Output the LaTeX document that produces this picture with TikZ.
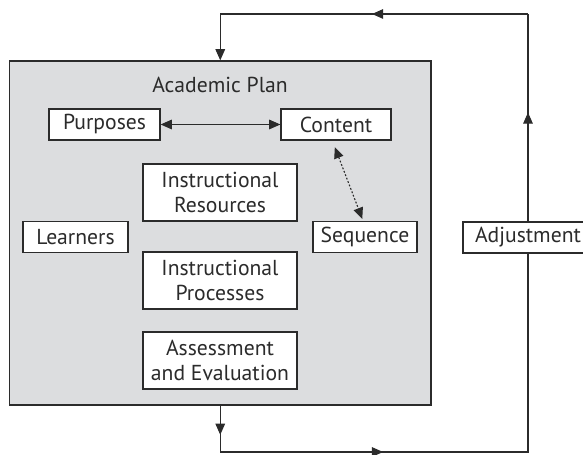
\documentclass[tikz,border=0pt]{standalone}
\usepackage{fontspec}
\setmainfont{PT Sans}
\usetikzlibrary{arrows.meta,decorations.markings}
\definecolor{plangray}{HTML}{DCDDDF}
\definecolor{ink}{HTML}{2B2B2B}

\begin{document}
\begin{tikzpicture}[
  font=\fontsize{15.4}{18.3}\selectfont, color=ink,
  box/.style={draw=ink, fill=white, line width=0.9pt, align=center, inner sep=0pt, minimum height=0.78cm},
  tall/.style={box, minimum width=3.85cm, minimum height=1.425cm},
  tri/.tip={Triangle[length=0.28cm,width=0.24cm]},
  midarrow/.style={postaction={decorate,decoration={markings,
    mark=at position #1 with {\arrow{tri}}}}},
  flow/.style={line width=0.8pt}
]
\useasboundingbox (0,0) rectangle (14.575,11.375);
%\node {\includegraphics{plan.png}};
\node[draw=ink, fill=plangray, line width=0.9pt, minimum width=10.5375cm,
  minimum height=8.6cm, inner sep=0pt] (plan) at (5.50625,5.55) {};
\node (title) at (5.5,9.25) {Academic Plan};
\node[box, minimum width=2.775cm] (purp) at (2.6125,8.2625) {Purposes};
\node[box, minimum width=2.75cm] (cont) at (8.4,8.2625) {Content};
\node[tall] (res) at (5.5,6.5625) {Instructional\\Resources};
\node[box, minimum width=2.625cm] (learn) at (1.8875,5.45) {Learners};
\node[box, minimum width=2.6cm] (seq) at (9.125,5.45) {Sequence};
\node[tall] (proc) at (5.5,4.3625) {Instructional\\Processes};
\node[tall] (eval) at (5.5,2.3625) {Assessment\\and Evaluation};
\node[box, minimum width=3.25cm] (adj) at (13.2,5.4375) {Adjustment};

\coordinate (bl) at (plan.south |- 0,0.075);
\coordinate (br) at (13.2,0.075);
\coordinate (tr) at (13.2,11.025);
\coordinate (tl) at (plan.north |- tr);

\draw[flow, tri-tri] (purp) -- (cont);
\draw[flow, tri-tri, dash pattern=on 1.3pt off 1.3pt, shorten <=0.17cm, shorten >=0.05cm]
  ([xshift=-0.09cm]cont.south) -- ([xshift=-0.05cm]seq.north);

\draw[flow, midarrow=0.73cm] (plan.south) -- (bl);
\draw[flow, midarrow=4.07cm] (bl) -- (br) -- (adj.south);
\draw[flow, midarrow=2.72cm] (adj.north) -- (tr);
\draw[flow, midarrow=3.9cm, -tri] (tr) -- (tl) -- (plan.north);
\end{tikzpicture}
\end{document}
